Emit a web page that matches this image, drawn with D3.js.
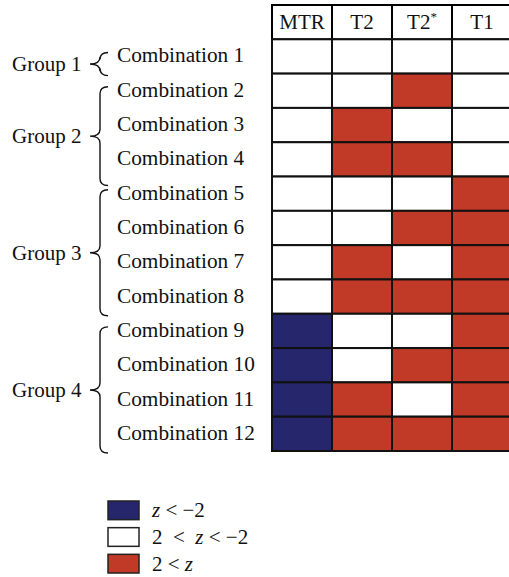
<!DOCTYPE html>
<html>
<head>
<meta charset="utf-8">
<script src="https://cdn.jsdelivr.net/npm/d3@7/dist/d3.min.js"></script>
<style>
  body { margin: 0; background: #fff; }
  text { font-family: "Liberation Serif", "Times New Roman", serif; fill: #111; }
</style>
</head>
<body>
<script>
var columns = ["MTR", "T2", "T2*", "T1"];
var combinations = ["Combination 1", "Combination 2", "Combination 3", "Combination 4",
                    "Combination 5", "Combination 6", "Combination 7", "Combination 8",
                    "Combination 9", "Combination 10", "Combination 11", "Combination 12"];
// -1 : z < -2, 0 : in between, 1 : 2 < z
var mtr = [0, 0, 0, 0, 0, 0, 0, 0, -1, -1, -1, -1];
var t2  = [0, 0, 1, 1, 0, 0, 1, 1, 0, 0, 1, 1];
var t2s = [0, 1, 0, 1, 0, 1, 0, 1, 0, 1, 0, 1];
var t1  = [0, 0, 0, 0, 1, 1, 1, 1, 1, 1, 1, 1];
var groups = [
    { name: "Group 1", start: 0, end: 0 },
    { name: "Group 2", start: 1, end: 3 },
    { name: "Group 3", start: 4, end: 7 },
    { name: "Group 4", start: 8, end: 11 }
];
var legendItems = [-1, 0, 1];

var color = d3.scaleOrdinal().domain([-1, 0, 1]).range(["#25266b", "#ffffff", "#c13a28"]);

var svg = d3.select("body").append("svg")
            .attr("width", 509)
            .attr("height", 577);

var x = d3.scaleBand().domain(columns).range([272, 512]);
var y = d3.scaleBand().domain(d3.range(-1, combinations.length)).range([5, 451]);

var series = [mtr, t2, t2s, t1];
var cells = [];
combinations.forEach(function(c, i) {
    columns.forEach(function(col, j) {
        cells.push({ row: i, col: col, v: series[j][i] });
    });
});

// header cells
svg.selectAll("rect.head")
   .data(columns)
   .enter()
   .append("rect")
   .attr("class", "head")
   .attr("x", function(d) { return x(d); })
   .attr("y", y(-1))
   .attr("width", x.bandwidth())
   .attr("height", y.bandwidth())
   .style("fill", "#fff")
   .style("stroke", "#000")
   .style("stroke-width", 2);

svg.selectAll("text.head")
   .data(columns)
   .enter()
   .append("text")
   .attr("class", "head")
   .attr("x", function(d) { return x(d) + x.bandwidth() / 2; })
   .attr("y", y(-1) + y.bandwidth() / 2 + 7)
   .attr("text-anchor", "middle")
   .style("font-size", "21px")
   .each(function(d) {
       var t = d3.select(this);
       if (d.slice(-1) === "*") {
           t.append("tspan").text(d.slice(0, -1));
           t.append("tspan").attr("dy", -8).style("font-size", "13px").text("*");
       } else {
           t.text(d);
       }
   });

svg.selectAll("rect.cell")
   .data(cells)
   .enter()
   .append("rect")
   .attr("class", "cell")
   .attr("x", function(d) { return x(d.col); })
   .attr("y", function(d) { return y(d.row); })
   .attr("width", x.bandwidth())
   .attr("height", y.bandwidth())
   .style("fill", function(d) { return color(d.v); })
   .style("stroke", "#111")
   .style("stroke-width", 2);

// row labels
svg.selectAll("text.combo")
   .data(combinations)
   .enter()
   .append("text")
   .attr("class", "combo")
   .attr("x", 117)
   .attr("y", function(d, i) { return y(i) + y.bandwidth() / 2 + 6; })
   .style("font-size", "21.3px")
   .text(function(d) { return d; });

// braces
function brace(top, bot) {
    var mid = (top + bot) / 2, xr = 108, xv = 100, xt = 90, c = 7;
    return "M" + xr + "," + top +
           "Q" + xv + "," + top + " " + xv + "," + (top + c) +
           "L" + xv + "," + (mid - c) +
           "Q" + xv + "," + mid + " " + xt + "," + mid +
           "Q" + xv + "," + mid + " " + xv + "," + (mid + c) +
           "L" + xv + "," + (bot - c) +
           "Q" + xv + "," + bot + " " + xr + "," + bot;
}
function braceTop(g) { return y(g.start) + y.bandwidth() / 2 - 4; }
function braceBot(g) { return y(g.end) + y.bandwidth() + (g.end - g.start === 2 ? 9 : 2); }

svg.selectAll("path.brace")
   .data(groups)
   .enter()
   .append("path")
   .attr("class", "brace")
   .attr("d", function(g) { return brace(braceTop(g), braceBot(g)); })
   .style("fill", "none")
   .style("stroke", "#111")
   .style("stroke-width", 1.4);

svg.selectAll("text.group")
   .data(groups)
   .enter()
   .append("text")
   .attr("class", "group")
   .attr("x", 12)
   .attr("y", function(g) { return (braceTop(g) + braceBot(g)) / 2 + 7; })
   .style("font-size", "21px")
   .text(function(g) { return g.name; });

// legend
var ly = d3.scaleBand().domain(legendItems).range([497, 577]).paddingInner(0.3).paddingOuter(0.15);

svg.selectAll("rect.legend")
   .data(legendItems)
   .enter()
   .append("rect")
   .attr("class", "legend")
   .attr("x", 108)
   .attr("y", function(d) { return ly(d); })
   .attr("width", 31)
   .attr("height", ly.bandwidth())
   .style("fill", function(d) { return color(d); })
   .style("stroke", "#222")
   .style("stroke-width", 1.5);

var legendText = svg.selectAll("text.legend")
   .data(legendItems)
   .enter()
   .append("text")
   .attr("class", "legend")
   .attr("x", 152)
   .attr("y", function(d) { return ly(d) + ly.bandwidth() / 2 + 7; })
   .style("font-size", "21px")
   .style("white-space", "pre");

legendText.each(function(d) {
    var t = d3.select(this);
    if (d === -1) {
        t.append("tspan").style("font-style", "italic").text("z");
        t.append("tspan").text(" < \u22122");
    } else if (d === 0) {
        t.append("tspan").text("2  <  ");
        t.append("tspan").style("font-style", "italic").text("z");
        t.append("tspan").text(" < \u22122");
    } else {
        t.append("tspan").text("2 < ");
        t.append("tspan").style("font-style", "italic").text("z");
    }
});
</script>
</body>
</html>
